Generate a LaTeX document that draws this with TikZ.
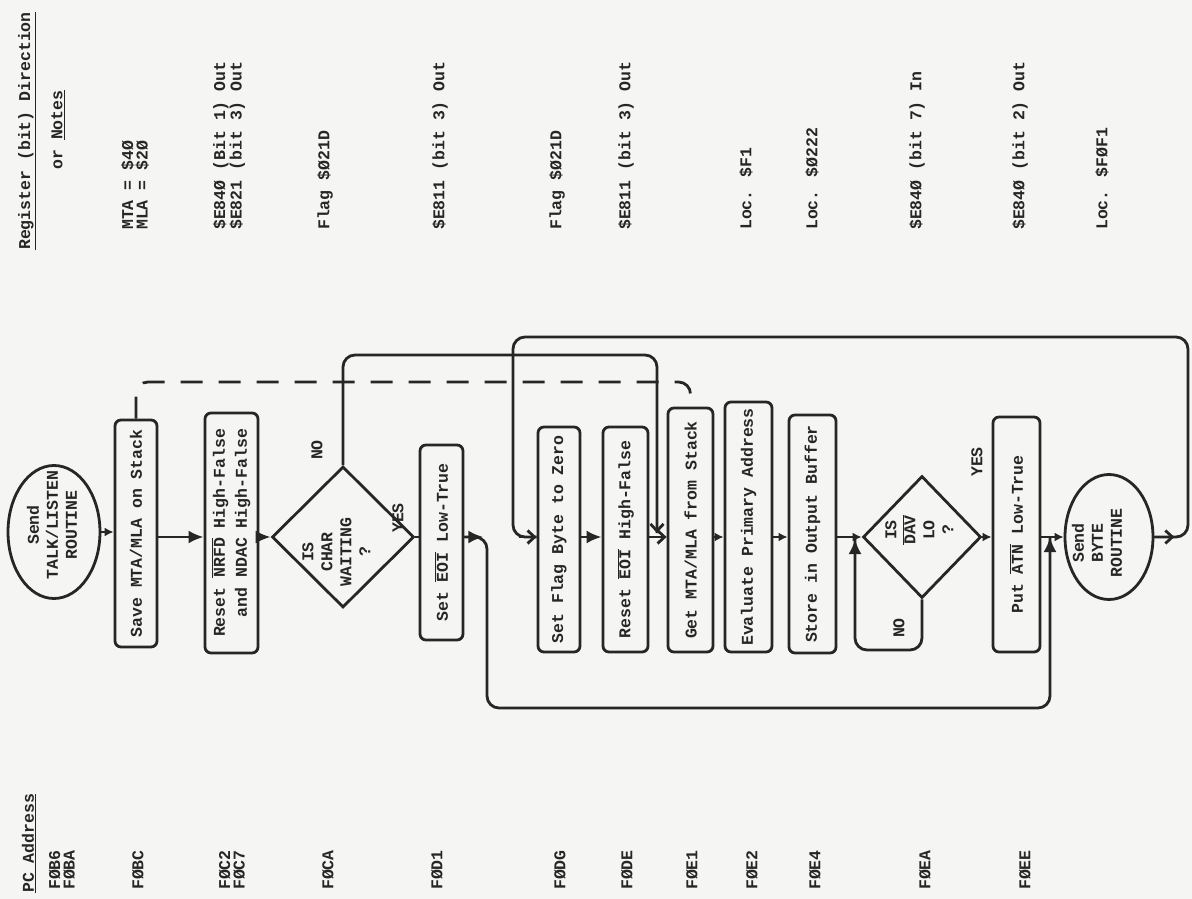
\documentclass[tikz,border=0pt]{standalone}
\usepackage{fontspec}
\setmainfont{Liberation Mono}[UprightFont=*-Bold]
\usetikzlibrary{arrows.meta,shapes.geometric}
\newcommand\olbar[1]{$\overline{\hbox{#1}}$}
\definecolor{ink}{HTML}{262626}
\definecolor{paper}{HTML}{F5F5F3}
\begin{document}
\begin{tikzpicture}[x=1pt,y=-1pt,
  ln/.style={line width=2.8pt, draw=ink, line join=round},
  bx/.style={draw=ink, line width=2.8pt, rounded corners=6pt, inner sep=0pt, text=ink, font=\fontsize{16.5}{22}\selectfont},
  ov/.style={draw=ink, line width=2.8pt, ellipse, inner sep=0pt},
  dia/.style={draw=ink, line width=2.8pt, diamond, inner sep=0pt},
  txt/.style={inner sep=0pt, text=ink, font=\fontsize{16.5}{19}\selectfont},
  lab/.style={inner sep=0pt, text=ink, rotate=90, align=left, font=\fontsize{16.5}{14.5}\selectfont},
  bigtip/.style={-{Latex[length=15pt,width=13pt]}},
  smtip/.style={-{Latex[length=9pt,width=9pt]}},
  opentip/.style={-{Straight Barb[length=7pt,width=13pt]}}]
\fill[paper] (0,0) rectangle (1192,899);
\useasboundingbox (0,0) rectangle (1192,899);
\coordinate (ax) at (0,537);

% headers
\node[lab, anchor=west] (hpc) at (29,893) {\underline{PC Address}};
\node[lab, anchor=west] (hreg) at (27,250) {\underline{Register (bit) Direction}};
\node[lab] (hnotes) at (58,130) {or \underline{Notes}};

% PC addresses
\node[lab, anchor=west] (pc1) at (62,890) {FØB6\\FØBA};
\node[lab, anchor=west] (pc2) at (138,890) {FØBC};
\node[lab, anchor=west] (pc3) at (232,890) {FØC2\\FØC7};
\node[lab, anchor=west] (pc4) at (328,890) {FØCA};
\node[lab, anchor=west] (pc5) at (437,890) {FØD1};
\node[lab, anchor=west] (pc6) at (560,890) {FØDG};
\node[lab, anchor=west] (pc7) at (627,890) {FØDE};
\node[lab, anchor=west] (pc8) at (692,890) {FØE1};
\node[lab, anchor=west] (pc9) at (752,890) {FØE2};
\node[lab, anchor=west] (pc10) at (815,890) {FØE4};
\node[lab, anchor=west] (pc11) at (925,890) {FØEA};
\node[lab, anchor=west] (pc12) at (1025,890) {FØEE};

% notes
\node[lab, anchor=west] (n1) at (135,230) {MTA = \$4Ø\\MLA = \$2Ø};
\node[lab, anchor=west] (n2) at (229,230) {\$E84Ø (Bit 1) Out\\\$E821 (bit 3) Out};
\node[lab, anchor=west] (n3) at (325,230) {Flag \$Ø21D};
\node[lab, anchor=west] (n4) at (440,230) {\$E811 (bit 3) Out};
\node[lab, anchor=west] (n5) at (557,230) {Flag \$Ø21D};
\node[lab, anchor=west] (n6) at (626,230) {\$E811 (bit 3) Out};
\node[lab, anchor=west] (n7) at (746,230) {Loc. \$F1};
\node[lab, anchor=west] (n8) at (812,230) {Loc. \$Ø222};
\node[lab, anchor=west] (n9) at (917,230) {\$E84Ø (bit 7) In};
\node[lab, anchor=west] (n10) at (1020,230) {\$E84Ø (bit 2) Out};
\node[lab, anchor=west] (n11) at (1102,230) {Loc. \$FØF1};

% flowchart shapes
\node[ov, minimum width=92pt, minimum height=133pt] (o1) at (54,532) {};
\node[txt] (o1t) at (54,525) {\rotatebox{90}{\begin{tabular}{@{}c@{}}Send\\TALK/LISTEN\\ROUTINE\end{tabular}}};
\node[bx, minimum width=42pt, minimum height=227pt] (save) at (136,533.5) {\rotatebox{90}{Save MTA/MLA on Stack}};
\node[bx, minimum width=53pt, minimum height=240pt] (resetn) at (231.5,533) {\rotatebox{90}{\begin{tabular}{@{}r@{}}Reset \olbar{NRFD} High-False\\and NDAC High-False\end{tabular}}};
\node[dia, minimum width=142pt, minimum height=141pt] (d1) at (343,537) {};
\node[txt] (d1t) at (338,552) {\rotatebox{90}{\begin{tabular}{@{}c@{}}IS\\CHAR\\WAITING\\?\end{tabular}}};
\node[txt, rotate=90] (no1) at (317,450) {NO};
\node[txt, rotate=90] (yes1) at (398,518) {YES};
\node[bx, minimum width=43pt, minimum height=195pt] (seteoi) at (441.5,542.5) {\rotatebox{90}{Set \olbar{EOI} Low-True}};
\node[bx, minimum width=42pt, minimum height=225pt] (setflag) at (559,539.5) {\rotatebox{90}{Set Flag Byte to Zero}};
\node[bx, minimum width=45pt, minimum height=225pt] (reseteoi) at (625.5,539.5) {\rotatebox{90}{Reset \olbar{EOI} High-False}};
\node[bx, minimum width=45pt, minimum height=244pt] (getmta) at (690.5,530) {\rotatebox{90}{Get MTA/MLA from Stack}};
\node[bx, minimum width=47pt, minimum height=250pt] (evaluate) at (748.5,527) {\rotatebox{90}{Evaluate Primary Address}};
\node[bx, minimum width=47pt, minimum height=238pt] (store) at (812.5,534) {\rotatebox{90}{Store in Output Buffer}};
\node[dia, minimum width=118pt, minimum height=122pt] (d2) at (922,537) {};
\node[txt] (d2t) at (921,530) {\rotatebox{90}{\begin{tabular}{@{}c@{}}IS\\\olbar{DAV}\\LO\\?\end{tabular}}};
\node[txt, rotate=90] (no2) at (899,628) {NO};
\node[txt, rotate=90] (yes2) at (977,462) {YES};
\node[bx, minimum width=47pt, minimum height=235pt] (putatn) at (1016.5,534.5) {\rotatebox{90}{Put \olbar{ATN} Low-True}};
\node[ov, minimum width=88pt, minimum height=125pt] (o2) at (1109,537) {};
\node[txt] (o2t) at (1099,543) {\rotatebox{90}{\begin{tabular}{@{}c@{}}Send\\BYTE\\ROUTINE\end{tabular}}};

% junction coordinates
\coordinate (j1) at (487,537);
\coordinate (bl) at (487,708);
\coordinate (br) at (1050,708);
\coordinate (j2) at (1050,537);
\coordinate (r1) at (1188,537);
\coordinate (r2) at (1188,337);
\coordinate (r3) at (513,337);
\coordinate (r4) at (513,537);
\coordinate (k1) at (343,355);
\coordinate (k2) at (657,355);
\coordinate (k3) at (657,533);
\coordinate (m1) at (922,650);
\coordinate (m2) at (855,650);
\coordinate (m3) at (855,539);

% connectors
\draw[ln, smtip] (o1.east) -- (save.west |- o1.east);
\draw[ln, bigtip] (save.east |- ax) -- (resetn.west |- ax);
\draw[ln, bigtip] (resetn.east |- ax) -- (d1.west);
\draw[ln] (d1.east) -- (seteoi.west |- ax);
\draw[ln, rounded corners=12pt] (seteoi.east |- ax) -- (j1) -- (bl) -- (br) -- (j2);
\draw[ln, bigtip] (seteoi.east |- ax) -- ++(19,0);
\draw[ln, bigtip] (br) ++(0,-20) -- (j2);
\draw[ln, smtip] (putatn.east |- ax) -- (o2.west);
\draw[ln, rounded corners=12pt] (o2.east) -- (r1) -- (r2) -- (r3) -- (r4) -- (setflag.west |- ax);
\draw[ln, opentip] (r4) ++(6,0) -- (setflag.west |- ax);
\draw[ln, opentip] (o2.east) -- ++(20,0);
\draw[ln, bigtip] (setflag.east |- ax) -- (reseteoi.west |- ax);
\draw[ln, opentip] (reseteoi.east |- ax) -- (getmta.west |- ax);
\draw[ln, rounded corners=12pt] (d1.north) -- (k1) -- (k2) -- (k3);
\draw[ln, opentip] (k2) ++(0,150) -- (k3);
\draw[ln, smtip] (getmta.east |- ax) -- (evaluate.west |- ax);
\draw[ln, smtip] (evaluate.east |- ax) -- (store.west |- ax);
\draw[ln, smtip] (store.east |- ax) -- (d2.west);
\draw[ln, smtip] (d2.east) -- (putatn.west |- ax);
\draw[ln, rounded corners=12pt] (d2.south) -- (m1) -- (m2) -- (m3);
\draw[ln, bigtip] (m2) ++(0,-30) -- (m3);
\draw[ln, rounded corners=12pt, dash pattern=on 22pt off 16pt] (save.north) -- (save.north |- 0,382) -- (getmta.north |- 0,382) -- (getmta.north);
\end{tikzpicture}
\end{document}
